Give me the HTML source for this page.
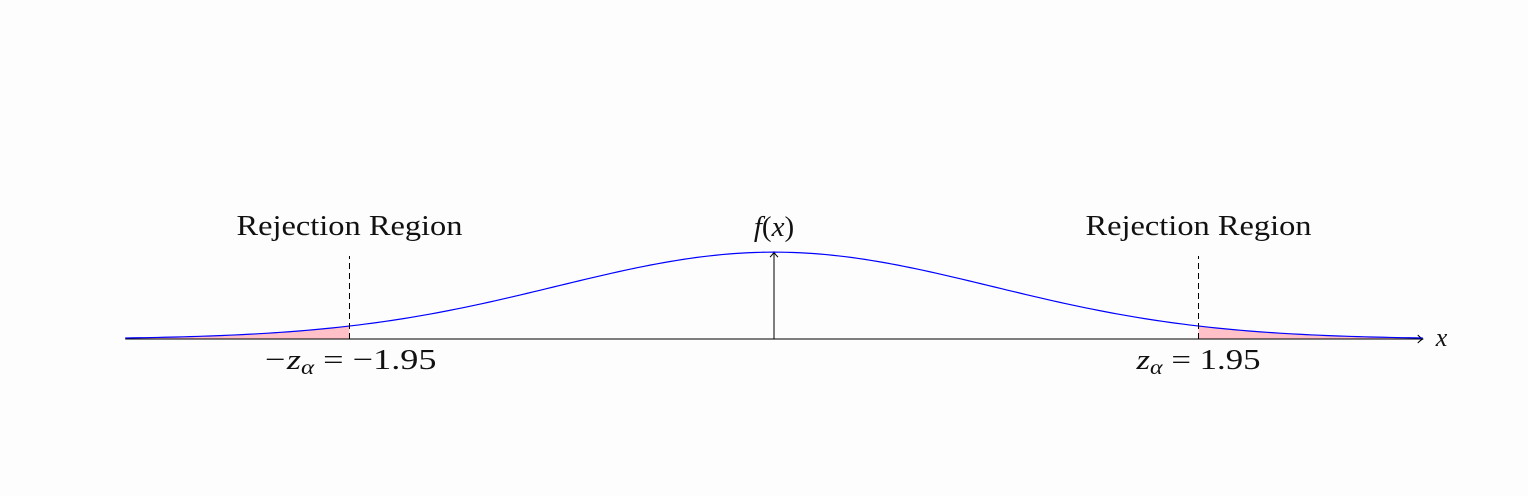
<!DOCTYPE html>
<html><head><meta charset="utf-8"><style>
html,body{margin:0;padding:0;background:#fdfdfd;}
svg{display:block;}
text{font-family:"Liberation Serif",serif;fill:#111;}
</style></head><body>
<svg id="chart" width="1528" height="496" viewBox="0 0 1528 496" xmlns="http://www.w3.org/2000/svg">
<g id="g"></g>
</svg>
<script>
const distMean = [0];
const distSd = [1];
const xDomain = [-2.98, 2.98];
const criticalValues = [-1.95, 1.95];
const criticalPrefix = ["\u2212z", "z"];
const criticalSuffix = [" = \u22121.95", " = 1.95"];
const regionLabels = ["Rejection Region", "Rejection Region"];

const NS = "http://www.w3.org/2000/svg";
const g = document.getElementById('g');
const cx = 774, baseY = 339, unit = 217.7;
const sx = v => cx + v * unit;
const sy = v => baseY - v * unit;
const pdf = x => Math.exp(-0.5 * ((x - distMean[0]) / distSd[0]) ** 2) / (distSd[0] * Math.sqrt(2 * Math.PI));
function mk(tag, attrs, parent) { const e = document.createElementNS(NS, tag); for (const k in attrs) e.setAttribute(k, attrs[k]); (parent || g).appendChild(e); return e; }
function curvePts(a, b) { const pts = []; const n = 200; for (let i = 0; i <= n; i++) { const x = a + (b - a) * i / n; pts.push(sx(x).toFixed(2) + "," + sy(pdf(x)).toFixed(2)); } return pts; }

const tails = [[xDomain[0], criticalValues[0]], [criticalValues[1], xDomain[1]]];
tails.forEach((t, i) => {
  const pts = curvePts(t[0], t[1]);
  const d = "M" + sx(t[0]) + "," + baseY + " L" + pts.join(" L") + " L" + sx(t[1]) + "," + baseY + " Z";
  const p = mk('path', { d: d, fill: '#ffc0c8', stroke: 'none' });
  
  
});

const xe = sx(xDomain[1]);
const ax = mk('line', { x1: sx(xDomain[0]), y1: baseY, x2: xe, y2: baseY, stroke: '#000', 'stroke-width': 1 });


const axh = mk('path', { d: `M${xe - 5},${baseY - 4} Q${xe - 2},${baseY - 1} ${xe},${baseY} Q${xe - 2},${baseY + 1} ${xe - 5},${baseY + 4}`, fill: 'none', stroke: '#000', 'stroke-width': 1 });


const xl = mk('text', { x: xe + 13, y: baseY + 7, 'font-size': 26, 'font-style': 'italic' });
xl.textContent = 'x';



const peakY = sy(pdf(0));
const ya = mk('line', { x1: cx, y1: baseY, x2: cx, y2: peakY, stroke: '#000', 'stroke-width': 1 });


const yah = mk('path', { d: `M${cx - 4},${peakY + 5} Q${cx - 1},${peakY + 2} ${cx},${peakY} Q${cx + 1},${peakY + 2} ${cx + 4},${peakY + 5}`, fill: 'none', stroke: '#000', 'stroke-width': 1 });


const fl = mk('text', { x: cx, y: 236, 'font-size': 29, 'text-anchor': 'middle' });


const f1 = mk('tspan', { 'font-style': 'italic' }, fl); f1.textContent = 'f';
const f2 = mk('tspan', {}, fl); f2.textContent = '(';
const f3 = mk('tspan', { 'font-style': 'italic' }, fl); f3.textContent = 'x';
const f4 = mk('tspan', {}, fl); f4.textContent = ')';

const c = mk('polyline', { points: curvePts(xDomain[0], xDomain[1]).join(" "), fill: 'none', stroke: '#0000ff', 'stroke-width': 1.2 });



criticalValues.forEach((v, i) => {
  const dl = mk('line', { x1: sx(v), y1: baseY, x2: sx(v), y2: 256, stroke: '#000', 'stroke-width': 1, 'stroke-dasharray': '6,4' });
  
  
  const rl = mk('text', { x: sx(v), y: 235, 'font-size': 29, 'text-anchor': 'middle', textLength: 226, lengthAdjust: 'spacingAndGlyphs' });
  rl.textContent = regionLabels[i];
  
  
  const w = i === 0 ? 174 : 124;
  const cl = mk('text', { x: sx(v) - w / 2, y: 369, 'font-size': 29, lengthAdjust: 'spacingAndGlyphs' });
  
  
  const a = mk('tspan', { 'font-style': 'italic' }, cl); a.textContent = criticalPrefix[i];
  const b = mk('tspan', { 'font-style': 'italic', 'font-size': 20, dy: 5 }, cl); b.textContent = '\u03B1';
  const s = mk('tspan', { dy: -5 }, cl); s.textContent = criticalSuffix[i];
  cl.setAttribute('textLength', w);
});
</script>
</body></html>
